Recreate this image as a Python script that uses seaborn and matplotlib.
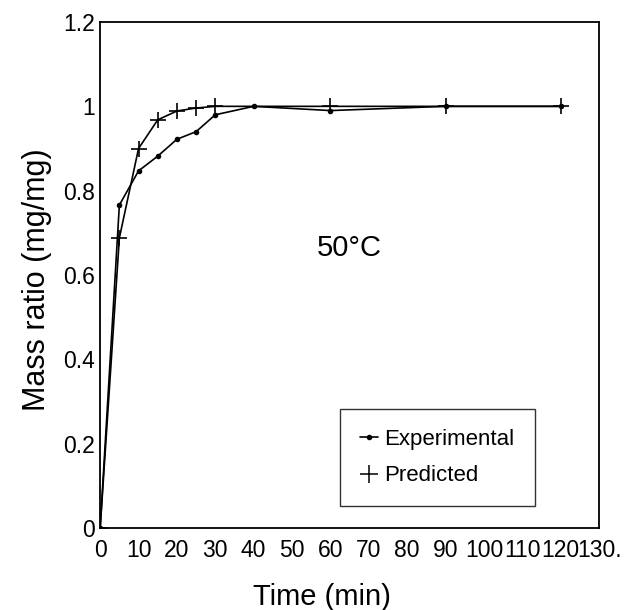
import pandas as pd
import matplotlib
matplotlib.use('Agg')
import matplotlib.pyplot as plt
import seaborn as sns
from matplotlib.lines import Line2D

# values
exp_time = [0, 5, 10, 15, 20, 25, 30, 40, 60, 90, 120]
exp_ratio = [0.0, 0.766, 0.847, 0.882, 0.922, 0.94, 0.98, 1.0, 0.99, 1.0, 1.0]

pred_time = [0, 5, 10, 15, 20, 25, 30, 60, 90, 120]
pred_ratio = [0.0, 0.688, 0.90, 0.968, 0.989, 0.996, 1.0, 1.0, 1.0, 1.0]

x_ticks = [0, 10, 20, 30, 40, 50, 60, 70, 80, 90, 100, 110, 120, 130]
x_tick_labels = ['0', '10', '20', '30', '40', '50', '60', '70', '80', '90',
                 '100', '110', '120', '130.']
y_ticks = [0, 0.2, 0.4, 0.6, 0.8, 1.0, 1.2]
y_tick_labels = ['0', '0.2', '0.4', '0.6', '0.8', '1', '1.2']

exp_df = pd.DataFrame({'time': exp_time, 'ratio': exp_ratio})
pred_df = pd.DataFrame({'time': pred_time, 'ratio': pred_ratio})

sns.set_style('white')
plt.rcParams['font.family'] = ['Liberation Sans', 'DejaVu Sans']
plt.rcParams['text.color'] = 'black'
plt.rcParams['axes.labelcolor'] = 'black'
plt.rcParams['xtick.color'] = 'black'
plt.rcParams['ytick.color'] = 'black'

fig = plt.figure(figsize=(6.38, 6.10), dpi=100)
ax = fig.add_axes([0.157, 0.134, 0.782, 0.830])

sns.lineplot(data=exp_df, x='time', y='ratio', ax=ax, color='black',
             linewidth=1.2, marker='o', markersize=4, markeredgewidth=0)
sns.lineplot(data=pred_df, x='time', y='ratio', ax=ax, color='black',
             linewidth=1.2, marker='+', markersize=12, markeredgewidth=1.2,
             markeredgecolor='black')

ax.set_xlim(0, 130)
ax.set_ylim(0, 1.2)
ax.set_xticks(x_ticks)
ax.set_xticklabels(x_tick_labels)
ax.set_yticks(y_ticks)
ax.set_yticklabels(y_tick_labels)
ax.tick_params(axis='x', length=0, labelsize=16.5, pad=8)
ax.tick_params(axis='y', length=0, labelsize=16.5, pad=4)

for side in ['left', 'right', 'top', 'bottom']:
    ax.spines[side].set_color('black')
    ax.spines[side].set_linewidth(1.3)

ax.set_xlabel('Time (min)', fontsize=21)
ax.set_ylabel('Mass ratio (mg/mg)', fontsize=22)
ax.xaxis.set_label_coords(0.445, -0.108)
ax.yaxis.set_label_coords(-0.097, 0.49)

ax.text(64.8, 0.664, '50°C', fontsize=21, ha='center', va='center')

handles = [
    Line2D([], [], color='black', linewidth=1.2, marker='o', markersize=4,
           markeredgewidth=0),
    Line2D([], [], color='black', linewidth=0, marker='+', markersize=13,
           markeredgewidth=1.1),
]
leg = ax.legend(handles, ['Experimental', 'Predicted'], loc='lower left',
                bbox_to_anchor=(0.481, 0.043), fontsize=16, frameon=True,
                fancybox=False, edgecolor='black', handlelength=0.8,
                handletextpad=0.3, borderpad=0.9, labelspacing=0.7,
                borderaxespad=0)
leg.get_frame().set_linewidth(1.0)

fig.savefig('out.png', dpi=100)
